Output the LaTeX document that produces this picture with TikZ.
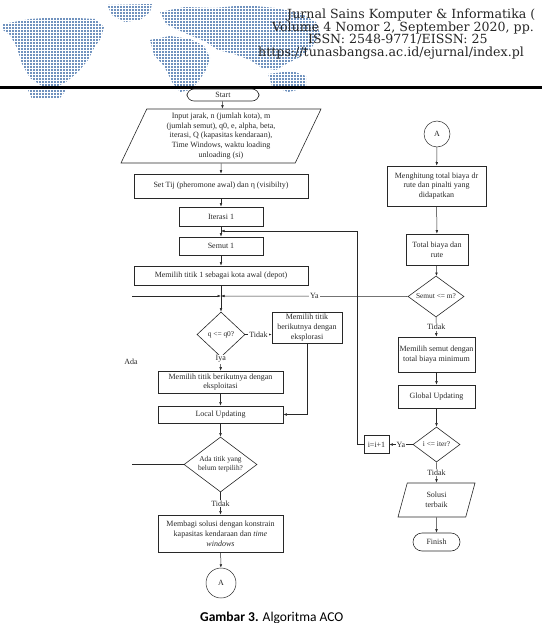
\documentclass[tikz,border=0pt]{standalone}
\usepackage{fontspec}
\setmainfont{Liberation Serif}
\newfontfamily\hdrfont{DejaVu Serif}
\newfontfamily\capfont{Carlito}
\usetikzlibrary{positioning}
\usetikzlibrary{shapes.geometric}
\usetikzlibrary{arrows.meta}
\definecolor{mapblue}{RGB}{112,146,190}
\definecolor{inkgray}{RGB}{40,40,40}
\newcommand{\flowsize}{\fontsize{8}{9.8}\selectfont}
\newcommand{\decsize}{\fontsize{7.4}{9.2}\selectfont}

\begin{document}
\begin{tikzpicture}[
  x=1pt, y=-1pt,
  font=\flowsize,
  every node/.style={text=inkgray},
  box/.style={draw=inkgray, align=center, inner sep=1pt, line width=0.6pt},
  term/.style={box, rounded corners=7pt},
  io/.style={box, trapezium, trapezium left angle=62, trapezium right angle=118, trapezium stretches body},
  decision/.style={box, diamond, inner sep=0pt, font=\decsize},
  conn/.style={circle, draw=inkgray, line width=0.5pt, inner sep=0pt},
  arrow/.style={-{Latex[length=3.5pt, width=2.6pt]}, draw=inkgray, line width=0.5pt},
  link/.style={draw=inkgray, line width=0.5pt},
  lbl/.style={fill=white, inner sep=1pt},
  mapdot/.style={mapblue, line width=2pt, dash pattern=on 2pt off 1pt},
  hdr/.style={font=\hdrfont\fontsize{12.6}{13}\selectfont, text=black!85, inner sep=0pt, anchor=base west}
]
\useasboundingbox (0,0) rectangle (542,623);

% World map in the header (dot matrix)
\begin{scope}
  \clip (3,24) -- (30,19) -- (60,17) -- (95,19) -- (104,27) -- (101,38) -- (94,48) -- (88,60)
        -- (78,72) -- (66,82) -- (54,88) -- (42,86) -- (30,78) -- (22,64) -- (17,48) -- (10,35) -- (3,30) -- cycle
        (107,5) -- (152,4) -- (150,12) -- (140,20) -- (125,22) -- (112,15) -- cycle
        (28,90) -- (66,90) -- (60,98) -- (32,99) -- cycle
        (160,12) -- (185,7) -- (215,8) -- (245,5) -- (275,8) -- (300,13) -- (316,22) -- (320,34) -- (312,47)
        -- (300,57) -- (288,63) -- (276,70) -- (262,68) -- (250,60) -- (234,54) -- (218,50) -- (206,42)
        -- (192,36) -- (178,30) -- (166,24) -- cycle
        (150,40) -- (170,36) -- (190,39) -- (204,46) -- (210,58) -- (206,70) -- (198,82) -- (190,90)
        -- (180,92) -- (172,82) -- (164,66) -- (154,55) -- cycle
        (268,74) -- (292,71) -- (306,76) -- (306,88) -- (288,92) -- (272,86) -- cycle;
  \foreach \y in {4,7,...,100}
    \draw[mapdot] (0,\y) -- (330,\y);
\end{scope}

% Header text and rule
\node[hdr] (hdrA) at (287,19) {Jurnal Sains Komputer \& Informatika (};
\node[hdr] (hdrB) at (272,31.5) {Volume 4 Nomor 2, September 2020, pp.};
\node[hdr] (hdrC) at (308,44) {ISSN: 2548-9771/EISSN: 25};
\node[hdr] (hdrD) at (258,56.5) {https://tunasbangsa.ac.id/ejurnal/index.pl};
\draw[line width=3pt, black] (0,88) -- (542,88);

% Left column
\node[term, minimum width=72pt, minimum height=12pt] (start) at (223,95) {Start};
\node[io, minimum width=200pt, minimum height=54pt] (input) at (221,136)
  {Input jarak, n (jumlah kota), m\\(jumlah semut), q0, e, alpha, beta,\\iterasi, Q (kapasitas kendaraan),\\Time Windows, waktu loading\\unloading (si)};
\node[box, minimum width=174pt, minimum height=24pt] (settij) at (221,186) {Set Tij (pheromone awal) dan η (visibilty)};
\node[box, minimum width=84pt, minimum height=19pt] (iterasi) at (221,216.5) {Iterasi 1};
\node[box, minimum width=84pt, minimum height=18pt] (semut1) at (221,246) {Semut 1};
\node[box, minimum width=174pt, minimum height=19pt] (titik1) at (221,275.5) {Memilih titik 1 sebagai kota awal (depot)};
\coordinate (itmerge) at (221,231);
\coordinate (merge) at (221,296);
\node[decision, minimum width=48pt, minimum height=45pt, aspect=1.07] (qd) at (221,334.5) {q <= q0?};
\node[box, minimum width=70pt, minimum height=31pt] (eksplor) at (307,327.5) {Memilih titik\\berikutnya dengan\\eksplorasi};
\node[box, minimum width=125pt, minimum height=22pt] (eksploit) at (220.5,382) {Memilih titik berikutnya dengan\\eksploitasi};
\node[box, minimum width=125pt, minimum height=17pt] (local) at (220.5,414.5) {Local Updating};
\node[decision, minimum width=73pt, minimum height=55pt, aspect=1.33] (adad) at (220.5,464.5) {Ada titik yang\\belum terpilih?};
\node[box, minimum width=125pt, minimum height=37pt] (membagi) at (220.5,533.5)
  {Membagi solusi dengan konstrain\\kapasitas kendaraan dan \textit{time}\\\textit{windows}};
\node[conn, minimum size=30pt] (connA) at (221,583) {A};
\coordinate (adaL) at (132,464.5);
\coordinate (loopL) at (132,296);
\node (adalbl) at (131,362) {Ada};

% Right column
\node[conn, minimum size=26pt] (connB) at (437,134) {A};
\node[box, minimum width=99pt, minimum height=40pt] (hitung) at (436.5,186) {Menghitung total biaya dr\\rute dan pinalti yang\\didapatkan};
\node[box, minimum width=62pt, minimum height=31pt] (total) at (437,249.5) {Total biaya dan\\rute};
\node[decision, minimum width=56pt, minimum height=41pt, aspect=1.37] (semutd) at (436,296.5) {Semut <= m?};
\node[box, minimum width=77pt, minimum height=35pt] (pilihsemut) at (436.5,354.5) {Memilih semut dengan\\total biaya minimum};
\node[box, minimum width=77pt, minimum height=23pt] (global) at (436.5,396.5) {Global Updating};
\node[decision, minimum width=47pt, minimum height=35pt, aspect=1.34] (iterd) at (436.5,444.5) {i <= iter?};
\node[box, minimum width=25pt, minimum height=18pt] (iplus) at (376.5,444.5) {i=i+1};
\node[io, minimum width=77pt, minimum height=34pt] (solusi) at (436.5,500) {Solusi\\terbaik};
\node[term, minimum width=47pt, minimum height=18pt, rounded corners=9pt] (finish) at (436.5,542) {Finish};

% Connectors, left
\draw[arrow] (start) -- (input);
\draw[arrow] (input) -- (settij);
\draw[arrow] (settij) -- (iterasi);
\draw[arrow] (iterasi) -- (semut1);
\draw[arrow] (semut1) -- (titik1);
\draw[arrow] (titik1) -- (qd);
\draw[arrow] (loopL) -- (merge);
\draw[arrow] (semutd.west) -- node[lbl, pos=0.5] {Ya} (merge);
\draw[arrow] (qd.east) -- node[lbl] {Tidak} (qd.east -| eksplor.west);
\draw[arrow] (qd) -- node[lbl, pos=0.15] {Iya} (eksploit);
\draw[arrow] (eksploit) -- (local);
\draw[arrow] (eksplor.south) |- (local.east);
\draw[arrow] (local) -- (adad);
\draw[link] (adad.west) -- (adaL);
\draw[arrow] (adad) -- node[lbl] {Tidak} (membagi);
\draw[arrow] (membagi) -- (connA);

% Connectors, right
\draw[arrow] (connB) -- (hitung);
\draw[arrow] (hitung) -- (total);
\draw[arrow] (total) -- (semutd);
\draw[arrow] (semutd) -- node[lbl] {Tidak} (pilihsemut);
\draw[arrow] (pilihsemut) -- (global);
\draw[arrow] (global) -- (iterd);
\draw[arrow] (iterd) -- node[lbl] {Ya} (iplus);
\draw[arrow] (iterd) -- node[lbl] {Tidak} (solusi);
\draw[arrow] (solusi) -- (finish);
\draw[arrow] (iplus.west) -- ++(-6,0) |- (itmerge);

% Caption
\node[font=\capfont\fontsize{13.5}{15}\selectfont, anchor=base west, inner sep=0pt, text=black] (caption) at (200,621)
  {\textbf{Gambar 3.} Algoritma ACO};
\end{tikzpicture}
\end{document}
